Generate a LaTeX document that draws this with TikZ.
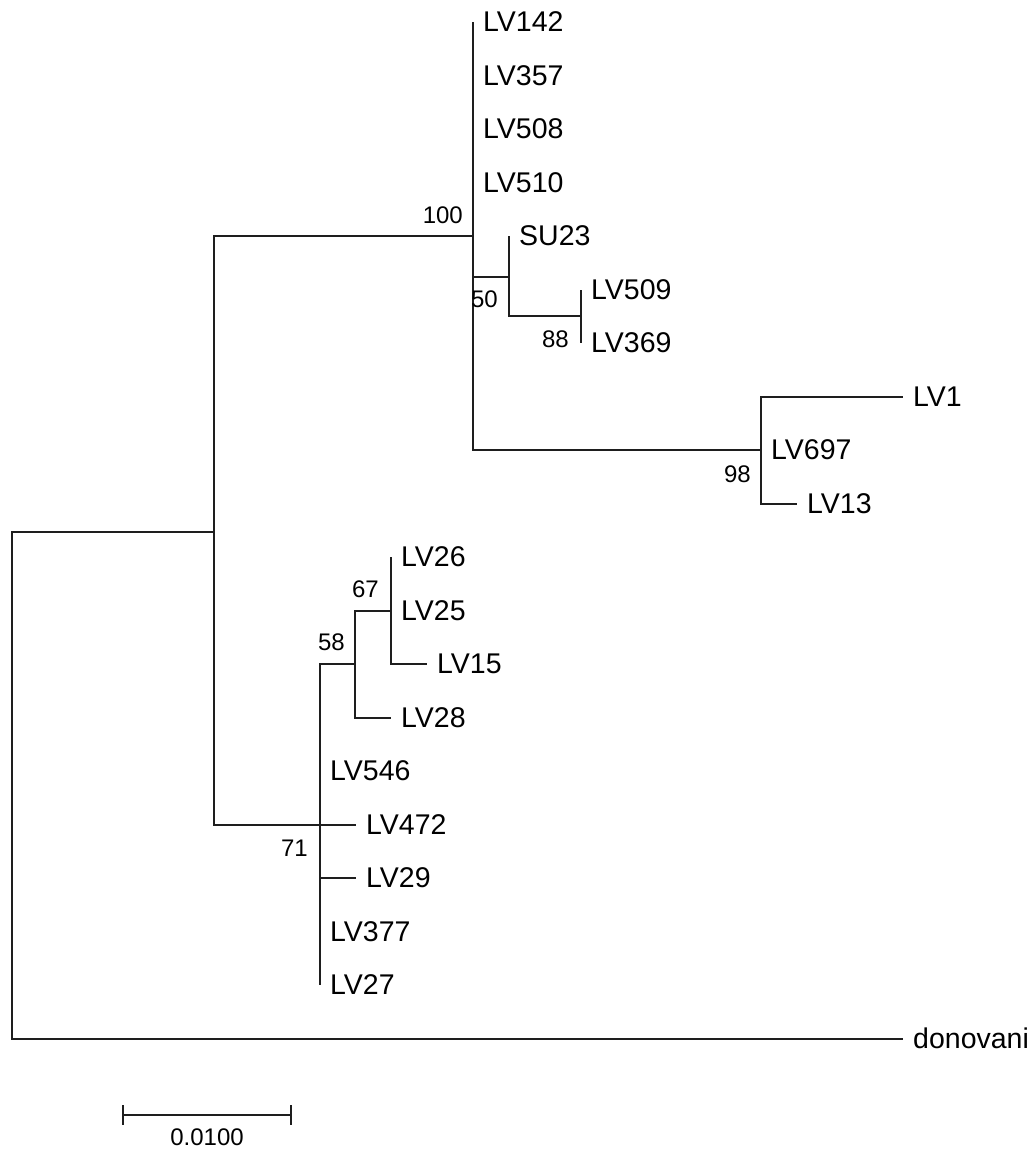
\documentclass[tikz,border=0pt]{standalone}
\usepackage{amsmath,amssymb,graphicx,xcolor,tikz}
\usepackage{fontspec}
\setmainfont{Liberation Sans}

\begin{document}
\begin{tikzpicture}[x=1pt,y=1pt,yscale=-1,xscale=1,
  branch/.style={line width=2pt,color={rgb, 255:red, 30; green, 30; blue, 30 }},
  taxon/.style={anchor=west,inner sep=0pt,font=\fontsize{28.5}{34}\selectfont},
  boot/.style={anchor=east,inner sep=0pt,font=\fontsize{24}{29}\selectfont}]

\useasboundingbox (0,0) rectangle (1032,1153) ;

% internal nodes
\coordinate (root) at (12,785) ;
\coordinate (n1) at (214,532) ;
\coordinate (n100) at (473,236) ;
\coordinate (n50) at (509,277) ;
\coordinate (n88) at (581,316) ;
\coordinate (n98) at (761,450) ;
\coordinate (n71) at (320,825) ;
\coordinate (n58) at (355,664) ;
\coordinate (n67) at (391,611) ;

% tips
\coordinate (lv142) at (473,22) ;
\coordinate (lv357) at (473,75.5) ;
\coordinate (lv508) at (473,129) ;
\coordinate (lv510) at (473,182.5) ;
\coordinate (su23) at (509,236) ;
\coordinate (lv509) at (581,289.5) ;
\coordinate (lv369) at (581,343) ;
\coordinate (lv1) at (903,396.5) ;
\coordinate (lv697) at (761,450) ;
\coordinate (lv13) at (797,503.5) ;
\coordinate (lv26) at (391,557) ;
\coordinate (lv25) at (391,610.5) ;
\coordinate (lv15) at (427,664) ;
\coordinate (lv28) at (391,717.5) ;
\coordinate (lv546) at (320,771) ;
\coordinate (lv472) at (356,824.5) ;
\coordinate (lv29) at (356,878) ;
\coordinate (lv377) at (320,931.5) ;
\coordinate (lv27) at (320,985) ;
\coordinate (don) at (903,1038.5) ;

\draw [branch]   (root) |- (n1) ;

\draw [branch]   (root) |- (don) ;

\draw [branch]   (n1) |- (n100) ;

\draw [branch]   (n1) |- (n71) ;

\draw [branch]   (n100) |- (lv142) ;

\draw [branch]   (n100) |- (lv357) ;

\draw [branch]   (n100) |- (lv508) ;

\draw [branch]   (n100) |- (lv510) ;

\draw [branch]   (n100) |- (n50) ;

\draw [branch]   (n100) |- (n98) ;

\draw [branch]   (n50) |- (su23) ;

\draw [branch]   (n50) |- (n88) ;

\draw [branch]   (n88) |- (lv509) ;

\draw [branch]   (n88) |- (lv369) ;

\draw [branch]   (n98) |- (lv1) ;

\draw [branch]   (n98) |- (lv697) ;

\draw [branch]   (n98) |- (lv13) ;

\draw [branch]   (n71) |- (n58) ;

\draw [branch]   (n71) |- (lv546) ;

\draw [branch]   (n71) |- (lv472) ;

\draw [branch]   (n71) |- (lv29) ;

\draw [branch]   (n71) |- (lv377) ;

\draw [branch]   (n71) |- (lv27) ;

\draw [branch]   (n58) |- (n67) ;

\draw [branch]   (n58) |- (lv28) ;

\draw [branch]   (n67) |- (lv26) ;

\draw [branch]   (n67) |- (lv25) ;

\draw [branch]   (n67) |- (lv15) ;

% taxon labels
\node [taxon] (t142) at (483,22) {LV142};

\node [taxon] (t357) at (483,75.5) {LV357};

\node [taxon] (t508) at (483,129) {LV508};

\node [taxon] (t510) at (483,182.5) {LV510};

\node [taxon] (tsu23) at (519,236) {SU23};

\node [taxon] (t509) at (591,289.5) {LV509};

\node [taxon] (t369) at (591,343) {LV369};

\node [taxon] (t1) at (913,396.5) {LV1};

\node [taxon] (t697) at (771,450) {LV697};

\node [taxon] (t13) at (807,503.5) {LV13};

\node [taxon] (t26) at (401,557) {LV26};

\node [taxon] (t25) at (401,610.5) {LV25};

\node [taxon] (t15) at (437,664) {LV15};

\node [taxon] (t28) at (401,717.5) {LV28};

\node [taxon] (t546) at (330,771) {LV546};

\node [taxon] (t472) at (366,824.5) {LV472};

\node [taxon] (t29) at (366,878) {LV29};

\node [taxon] (t377) at (330,931.5) {LV377};

\node [taxon] (t27) at (330,985) {LV27};

\node [taxon] (tdon) at (913,1038.5) {donovani};

% bootstrap values
\node [boot] (b100) at (463,215) {100};

\node [boot] (b50) at (498,299) {50};

\node [boot] (b88) at (569,339) {88};

\node [boot] (b98) at (751,474) {98};

\node [boot] (b67) at (379,589) {67};

\node [boot] (b58) at (345,642) {58};

\node [boot] (b71) at (308,848) {71};

% scale bar
\coordinate (bar0) at (123,1115) ;
\coordinate (bar1) at (291,1115) ;

\draw [branch]   (bar0) -- (bar1) ;

\draw [branch]   (bar0) ++(0,-10) -- ++(0,20) ;

\draw [branch]   (bar1) ++(0,-10) -- ++(0,20) ;

\node [boot,anchor=center] (barlbl) at (207,1137) {0.0100};

\end{tikzpicture}
\end{document}
